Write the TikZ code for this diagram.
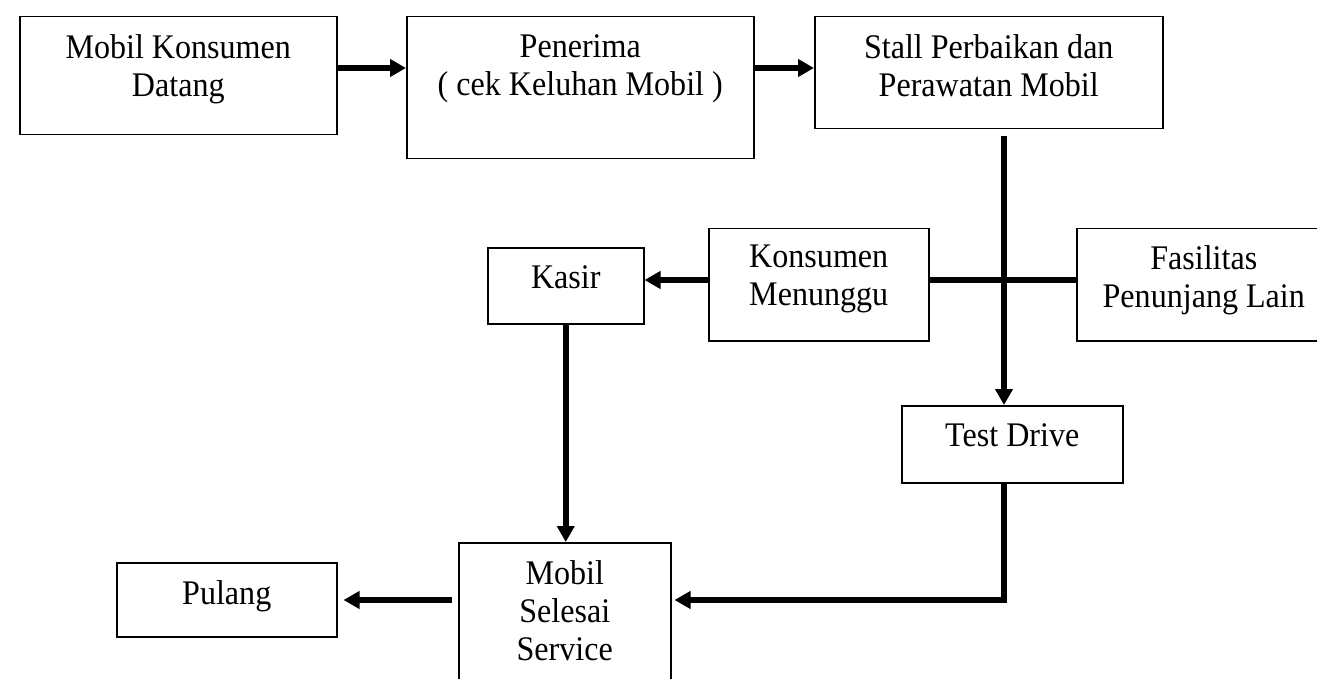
\documentclass[tikz,border=0pt]{standalone}
\usepackage{fontspec}
\setmainfont{Liberation Serif}[FakeStretch=0.93]
\usetikzlibrary{arrows.meta,calc}
\tikzset{
  box/.style={draw=black, line width=1.5pt, inner sep=0pt, anchor=north west, rectangle},
  txt/.style={anchor=north, inner sep=0pt, align=center, font=\fontsize{34.5}{38}\selectfont},
  conn/.style={line width=6pt, draw=black},
  arr/.style={conn, -{Triangle[length=16pt,width=17pt]}}
}
\begin{document}
\begin{tikzpicture}[x=1pt, y=-1pt]
\useasboundingbox (0,0) rectangle (1317,679);
\clip (0,0) rectangle (1317,679);
\fill[white] (0,0) rectangle (1317,679);

% boxes
\node[box, minimum width=317pt, minimum height=118pt] (b1) at (19,16) {};
\node[box, minimum width=347pt, minimum height=142pt] (pen) at (406,16) {};
\node[box, minimum width=348pt, minimum height=112pt] (stall) at (814,16) {};
\node[box, minimum width=156pt, minimum height=76pt] (kasir) at (487,247) {};
\node[box, minimum width=220pt, minimum height=112pt] (km) at (708,228) {};
\node[box, minimum width=260pt, minimum height=112pt] (fas) at (1076,228) {};
\node[box, minimum width=221pt, minimum height=77pt] (td) at (901,405) {};
\node[box, minimum width=212pt, minimum height=160pt] (ms) at (458,542) {};
\node[box, minimum width=220pt, minimum height=74pt] (pul) at (116,562) {};

% texts
\node[txt] (t1) at ([yshift=-18pt]b1.north) {Mobil Konsumen\\Datang};
\node[txt] (t2) at ([yshift=-18pt]pen.north) {Penerima\\ ( cek Keluhan Mobil )};
\node[txt] (t3) at ([yshift=-18pt]stall.north) {Stall Perbaikan dan\\Perawatan Mobil};
\node[txt] (t4) at ([yshift=-18pt]kasir.north) {Kasir};
\node[txt] (t5) at ([yshift=-17pt]km.north) {Konsumen\\Menunggu};
\node[txt] (t6) at ([xshift=-3pt,yshift=-17pt]fas.north) {Fasilitas\\Penunjang Lain};
\node[txt] (t7) at ([yshift=-18pt]td.north) {Test Drive};
\node[txt] (t8) at ([yshift=-18pt]ms.north) {Mobil\\Selesai\\Service};
\node[txt] (t9) at ([yshift=-18pt]pul.north) {Pulang};

% helper coordinates
\coordinate (r1) at (0,68);
\coordinate (r2) at (0,600);
\coordinate (r3) at (0,280);
\coordinate (v1) at (1004,0);

% connectors
\draw[arr] (b1.east |- r1) -- (pen.west |- r1);
\draw[arr] (pen.east |- r1) -- (stall.west |- r1);
\draw[arr, shorten <=7pt] (v1 |- stall.south) -- (v1 |- td.north);
\draw[conn] (km.east |- r3) -- (fas.west |- r3);
\draw[arr] (km.west |- r3) -- (kasir.east |- r3);
\draw[arr] (kasir.south) -- (kasir.south |- ms.north);
\draw[arr] (v1 |- td.south) -- (v1 |- r2) -- ([xshift=3pt]ms.east |- r2);
\draw[arr, shorten <=6pt, shorten >=6pt] (ms.west |- r2) -- (pul.east |- r2);
\end{tikzpicture}
\end{document}
